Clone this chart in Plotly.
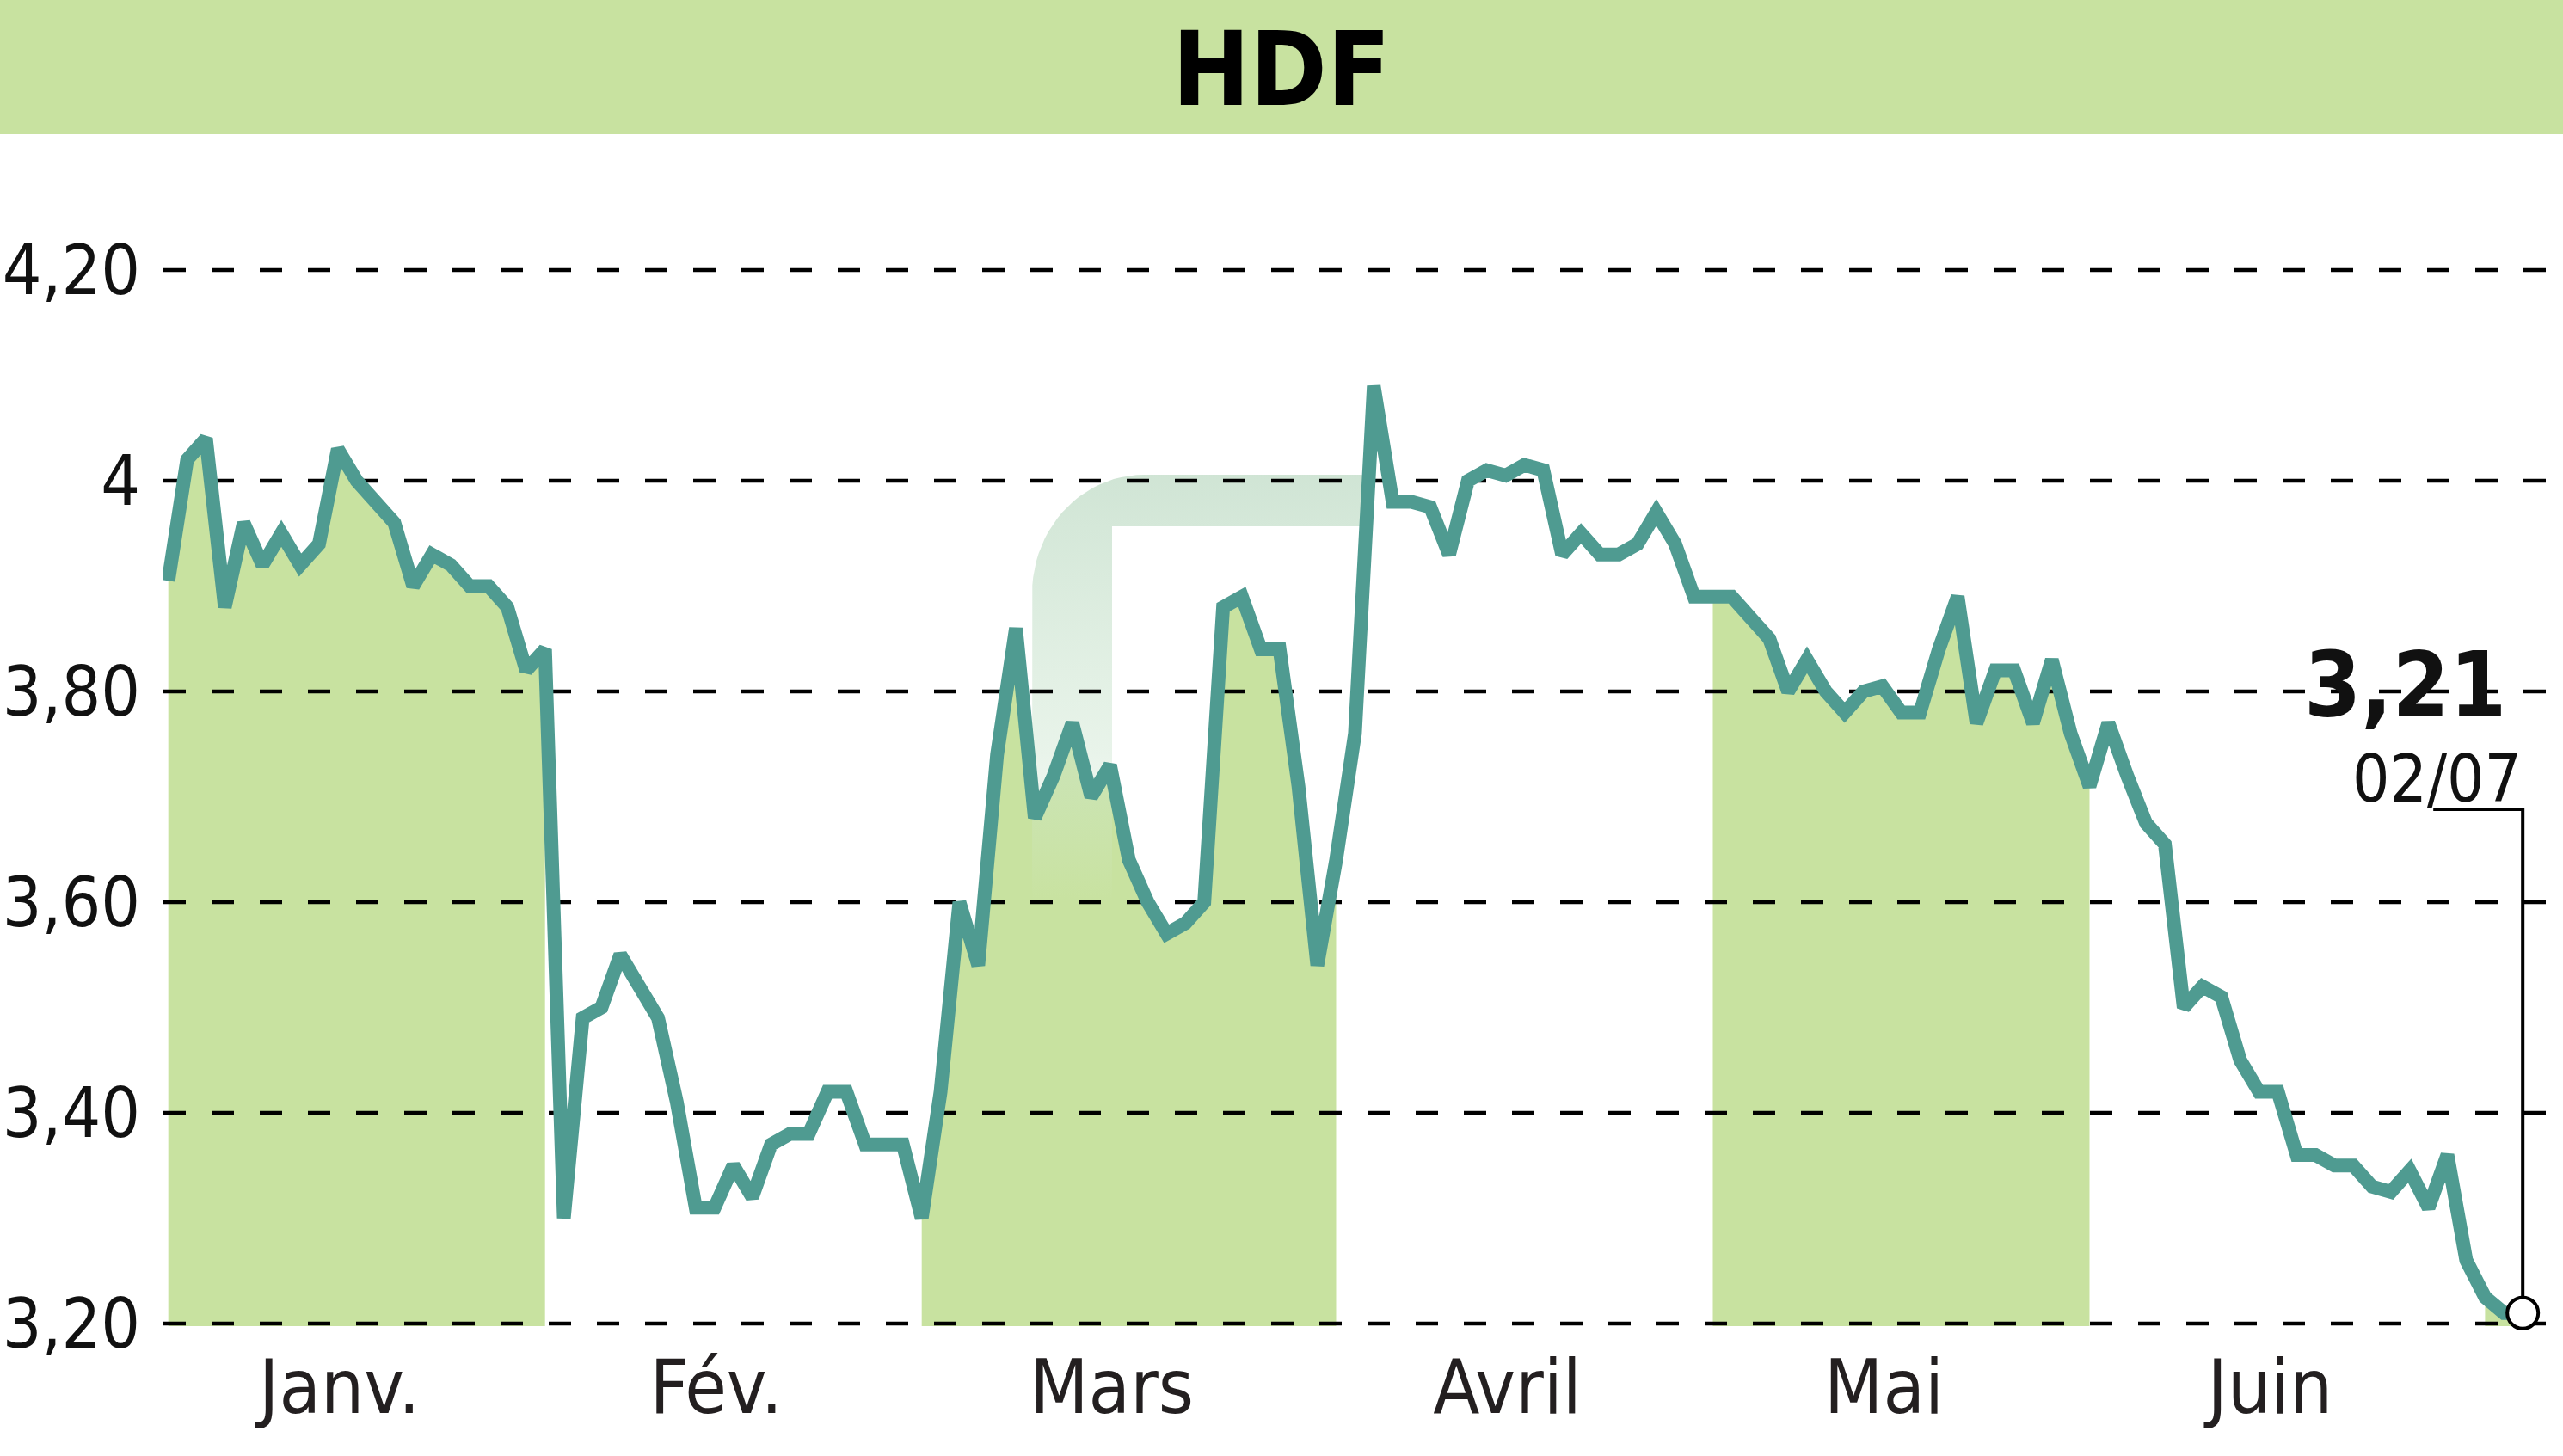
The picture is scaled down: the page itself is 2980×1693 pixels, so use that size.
import numpy as np
import plotly.graph_objects as go

# ---------------- data ----------------
title_text = "HDF"
prices = [3.905, 4.02, 4.04, 3.88, 3.96, 3.92, 3.95, 3.92, 3.94, 4.03,
          4.00, 3.98, 3.96, 3.90, 3.93, 3.92, 3.90, 3.90, 3.88, 3.82,
          3.84, 3.30, 3.49, 3.50, 3.55, 3.52, 3.49, 3.41, 3.31, 3.31,
          3.35, 3.32, 3.37, 3.38, 3.38, 3.42, 3.42, 3.37, 3.37, 3.37,
          3.30, 3.42, 3.60, 3.54, 3.74, 3.86, 3.68, 3.72, 3.77, 3.70,
          3.73, 3.64, 3.60, 3.57, 3.58, 3.60, 3.88, 3.89, 3.84, 3.84,
          3.71, 3.54, 3.64, 3.76, 4.09, 3.98, 3.98, 3.975, 3.93, 4.00,
          4.01, 4.005, 4.015, 4.01, 3.93, 3.95, 3.93, 3.93, 3.94, 3.97,
          3.94, 3.89, 3.89, 3.89, 3.87, 3.85, 3.80, 3.83, 3.80, 3.78,
          3.80, 3.805, 3.78, 3.78, 3.84, 3.89, 3.77, 3.82, 3.82, 3.77,
          3.83, 3.76, 3.71, 3.77, 3.72, 3.675, 3.655, 3.50, 3.52, 3.51,
          3.45, 3.42, 3.42, 3.36, 3.36, 3.35, 3.35, 3.33, 3.325, 3.345,
          3.31, 3.36, 3.26, 3.225, 3.21, 3.21]
month_labels = ["Janv.", "Fév.", "Mars", "Avril", "Mai", "Juin"]
# trading-day index where each month segment starts/ends (Janv..Juin, then juillet)
month_edges = [0, 20, 40, 62, 82, 102, 123, 125]
ytick_vals = [3.20, 3.40, 3.60, 3.80, 4.00, 4.20]
ytick_text = ["3,20", "3,40", "3,60", "3,80", "4", "4,20"]
last_value_text = "3,21"
last_date_text = "02/07"

# ---------------- styling / geometry ----------------
FIG_W, FIG_H = 2980, 1693
L, R, T = 190, 0, 160
PLOT_BOTTOM = 1542
PIX_320 = 1539          # pixel row of 3.20
PPU = 1225.0            # pixels per 1.0 of price
PPD = 21.9              # pixels per trading day
X_LEFT = -0.26
W = FIG_W - L - R
H = PLOT_BOTTOM - T
y_lo = 3.2 - (PLOT_BOTTOM - PIX_320) / PPU
y_hi = y_lo + H / PPU
x_lo = X_LEFT
x_hi = X_LEFT + W / PPD

LINE_C = "#4f9b91"
FILL_C = "#c8e2a0"
FONT = "DejaVu Sans Condensed, DejaVu Sans, sans-serif"


def px_x(px):
    return (px - L) / W


def px_y(py):
    return (PLOT_BOTTOM - py) / H


def dat_x(px):
    return X_LEFT + (px - L) / PPD


def val_y(py):
    return 3.2 + (PIX_320 - py) / PPU


x = list(range(len(prices)))
fig = go.Figure()

# shaded months (every other month starting with janvier)
for k in range(0, len(month_edges) - 1, 2):
    a, b = month_edges[k], month_edges[k + 1]
    fig.add_trace(go.Scatter(
        x=x[a:b + 1], y=prices[a:b + 1], mode="lines",
        line=dict(width=0, color=FILL_C), fill="tozeroy",
        fillcolor=FILL_C, hoverinfo="skip", showlegend=False))

# faint watermark (decorative), fading downwards, under grid and line
t = np.linspace(np.pi, 1.5 * np.pi, 24)
cx, cy, rx, ry = 1330, 690, 130, 138
arc_px = cx + rx * np.cos(t)
arc_py = cy + ry * np.sin(t)
wm_px = [1200] + list(arc_px) + [1585, 1585, 1293, 1293, 1200]
wm_py = [1050] + list(arc_py) + [552, 612, 612, 1050, 1050]
fig.add_trace(go.Scatter(
    x=[dat_x(p) for p in wm_px], y=[val_y(p) for p in wm_py],
    mode="lines", line=dict(width=0), fill="toself",
    fillcolor="rgba(200,226,206,0.6)",
    fillgradient=dict(type="vertical", colorscale=[
        [0.0, "rgba(215,235,215,0.0)"],
        [0.35, "rgba(205,230,208,0.45)"],
        [1.0, "rgba(196,222,202,0.8)"]]),
    hoverinfo="skip", showlegend=False))

# dashed grid lines drawn above the fill but below the price line
for v in ytick_vals:
    fig.add_trace(go.Scatter(
        x=[x_lo, x_hi], y=[v, v], mode="lines",
        line=dict(color="black", width=4.5, dash="26px,30px"),
        hoverinfo="skip", showlegend=False))

# price line
fig.add_trace(go.Scatter(
    x=x, y=prices, mode="lines",
    line=dict(color=LINE_C, width=16, shape="linear"),
    showlegend=False))

# leader line to last value label
lead_y = val_y(941)
lead_x_left = x[-1] - (2931 - 2827) / PPD
fig.add_trace(go.Scatter(
    x=[x[-1], x[-1], lead_x_left], y=[prices[-1], lead_y, lead_y],
    mode="lines", line=dict(color="black", width=4),
    hoverinfo="skip", showlegend=False, cliponaxis=False))

# last point marker
fig.add_trace(go.Scatter(
    x=[x[-1]], y=[prices[-1]], mode="markers",
    marker=dict(size=36, color="white", line=dict(color="black", width=4)),
    hoverinfo="skip", showlegend=False, cliponaxis=False))

month_ticks = [(month_edges[k] + month_edges[k + 1]) / 2 for k in range(len(month_labels))]

shapes = [
    # title band
    dict(type="rect", xref="paper", yref="paper",
         x0=px_x(-60), x1=px_x(FIG_W + 60), y0=px_y(156), y1=px_y(-60),
         fillcolor=FILL_C, line=dict(width=0), layer="below"),
]

annotations = [
    dict(text="<b>%s</b>" % title_text, xref="paper", yref="paper",
         x=px_x(1490), y=px_y(80), xanchor="center", yanchor="middle",
         showarrow=False, font=dict(family=FONT, size=120, color="black")),
    dict(text="<b>%s</b>" % last_value_text, xref="paper", yref="paper",
         x=px_x(2916), y=px_y(796), xanchor="right", yanchor="middle",
         showarrow=False, font=dict(family=FONT, size=106, color="#111")),
    dict(text=last_date_text, xref="paper", yref="paper",
         x=px_x(2934), y=px_y(905), xanchor="right", yanchor="middle",
         showarrow=False, font=dict(family=FONT, size=76, color="#111")),
]

fig.update_layout(
    template="none",
    width=FIG_W, height=FIG_H,
    margin=dict(l=L, r=R, t=T, b=FIG_H - PLOT_BOTTOM, pad=0),
    paper_bgcolor="white", plot_bgcolor="white",
    shapes=shapes, annotations=annotations, showlegend=False,
    xaxis=dict(range=[x_lo, x_hi], showgrid=False, zeroline=False,
               showline=False, ticks="", tickmode="array", automargin=False,
               tickvals=month_ticks, ticktext=month_labels,
               ticklabelshift=-20, ticklabelstandoff=12,
               tickfont=dict(family=FONT, size=88, color="#231f20")),
    yaxis=dict(range=[y_lo, y_hi], showgrid=False, zeroline=False,
               showline=False, ticks="", tickmode="array", automargin=False,
               tickvals=ytick_vals, ticktext=ytick_text,
               ticklabelstandoff=26,
               tickfont=dict(family=FONT, size=80, color="#111")),
)

fig.write_html("out.html")
